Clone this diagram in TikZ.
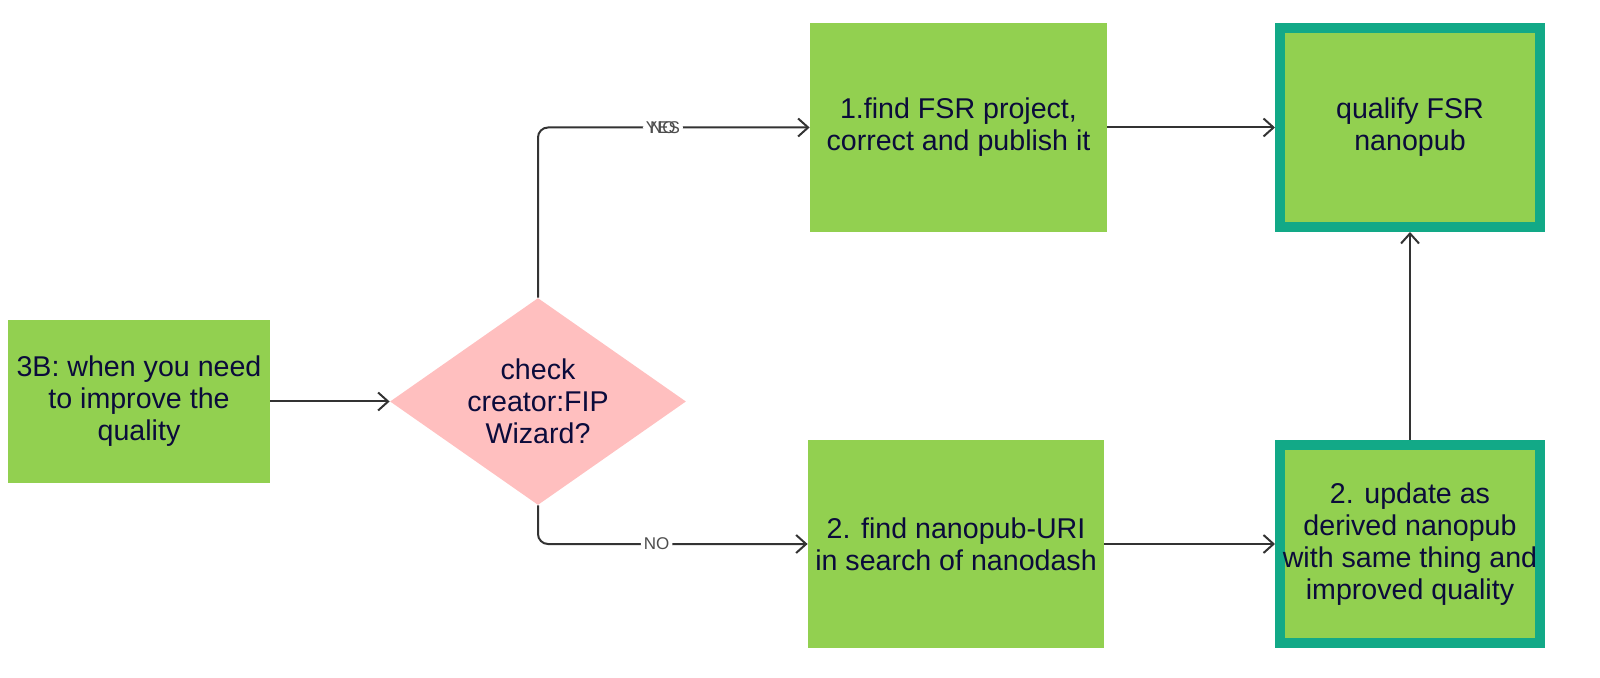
\documentclass[tikz,border=0pt]{standalone}
\usepackage{fontspec}
\setmainfont{Liberation Sans}
\usetikzlibrary{shapes.geometric,arrows.meta,positioning}
\definecolor{boxgreen}{HTML}{92D050}
\definecolor{diapink}{HTML}{FFBFBF}
\definecolor{tealedge}{HTML}{12A987}
\definecolor{txtcol}{HTML}{0B0B3B}
\definecolor{linecol}{HTML}{333333}
\definecolor{lblcol}{HTML}{4D4D4D}
\tikzset{
  boxtext/.style={font=\fontsize{14.3pt}{16pt}\selectfont, text=txtcol, align=center},
  greenbox/.style={rectangle, fill=boxgreen, draw=none, inner sep=0pt, boxtext},
  tealbox/.style={rectangle, fill=boxgreen, draw=tealedge, line width=5pt, inner sep=0pt, boxtext},
  dia/.style={diamond, fill=diapink, draw=none, inner sep=0pt, aspect=1.43},
  conn/.style={draw=linecol, line width=1pt, -{Straight Barb[length=5pt,width=9pt,line width=1pt]}},
  lbl/.style={font=\fontsize{8.5pt}{10pt}\selectfont, text=lblcol, fill=white, inner sep=1.5pt}
}
\begin{document}
\begin{tikzpicture}[x=0.5pt,y=-0.5pt]
\useasboundingbox (0,0) rectangle (1600,678);
\node[greenbox, minimum width=131pt, minimum height=81.5pt] (start) at (139,401.5) {3B: when you need\\to improve the\\quality};
\node[dia, minimum width=148pt, minimum height=103.5pt] (d) at (538,401.5) {};
\node[boxtext] (dtext) at (538,401.5) {check\\creator:FIP\\Wizard?};
\node[greenbox, minimum width=148.5pt, minimum height=104.5pt] (b1) at (958.5,127.5) {1.find FSR project,\\correct and publish it};
\node[tealbox, minimum width=130pt, minimum height=99.5pt] (q) at (1410,127.5) {qualify FSR\\nanopub};
\node[greenbox, minimum width=148pt, minimum height=104pt] (b2) at (956,544) {2. find nanopub-URI\\in search of nanodash};
\node[tealbox, minimum width=130pt, minimum height=99pt] (u) at (1410,544) {2. update as\\derived nanopub\\with same thing and\\improved quality};

\draw[conn] (start.east) -- (d.west);
\draw[conn, rounded corners=5pt] (d.north) |- (b1.west)
  node[lbl, pos=0.73] (yes) {YES}
  node[lbl, pos=0.73, fill=none] (no1) {NO};
\draw[conn, rounded corners=5pt] (d.south) |- (b2.west)
  node[lbl, pos=0.72] (no2) {NO};
\draw[conn] (b1.east) -- (q.west);
\draw[conn] (b2.east) -- (u.west);
\draw[conn] (u.north) -- (q.south);
\end{tikzpicture}
\end{document}
